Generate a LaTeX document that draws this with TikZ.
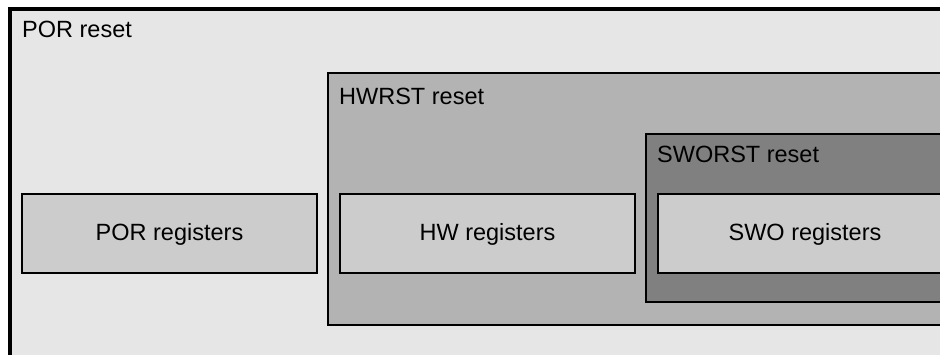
\documentclass[tikz,border=0pt]{standalone}
\usepackage{fontspec}
\setmainfont{Liberation Sans}
\begin{document}
\begin{tikzpicture}[x=1pt,y=-1pt,
  lbl/.style={font=\fontsize{23.5}{26}\selectfont, anchor=base west, inner sep=0pt},
  regtxt/.style={font=\fontsize{23.5}{26}\selectfont, inner sep=0pt},
  regbox/.style={draw=black, fill=regfill, line width=1.8pt}]
\definecolor{porfill}{HTML}{E6E6E6}
\definecolor{hwfill}{HTML}{B3B3B3}
\definecolor{swfill}{HTML}{808080}
\definecolor{regfill}{HTML}{CCCCCC}
\useasboundingbox (0,0) rectangle (940,354);
\clip (0,0) rectangle (940,354);
\fill[white] (0,0) rectangle (940,354);
% POR reset domain
\draw[fill=porfill, line width=3.2pt] (10,9) rectangle (960,380);
\node[lbl] (porlbl) at (22,37) {POR reset};
% HWRST reset domain
\draw[fill=hwfill, line width=2.2pt] (328,73) rectangle (960,325);
\node[lbl] (hwlbl) at (339,104) {HWRST reset};
% SWORST reset domain
\draw[fill=swfill, line width=1.8pt] (646,134) rectangle (960,302);
\node[lbl] (swlbl) at (657,162) {SWORST reset};
% registers
\draw[regbox] (22,194) rectangle (317,273);
\node[regtxt] (porreg) at (169.5,234) {POR registers};
\draw[regbox] (340,194) rectangle (635,273);
\node[regtxt] (hwreg) at (487.5,234) {HW registers};
\draw[regbox] (658,194) rectangle (960,273);
\node[regtxt] (swreg) at (805,234) {SWO registers};
\end{tikzpicture}
\end{document}
